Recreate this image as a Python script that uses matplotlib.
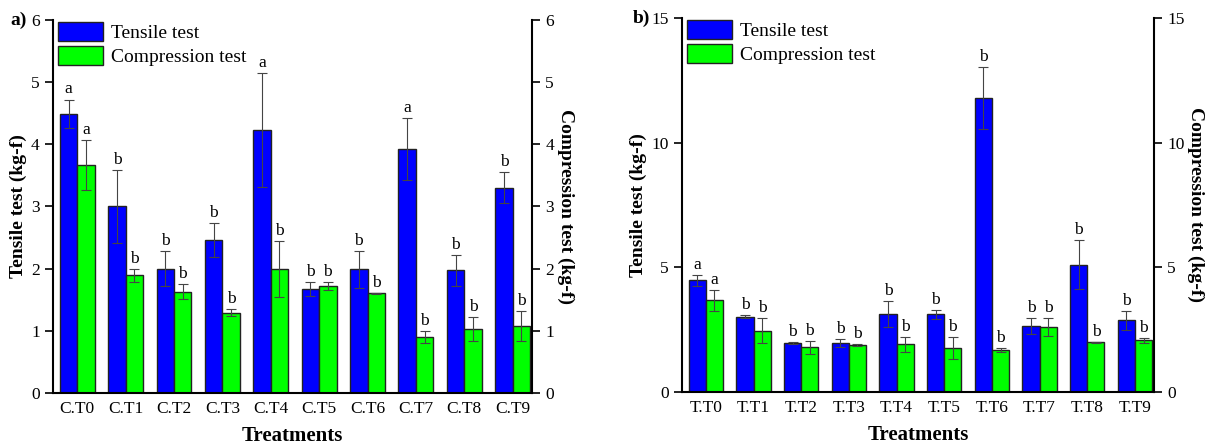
import matplotlib
matplotlib.use('Agg')
import matplotlib.pyplot as plt
import numpy as np

# data (kg-f)
c_labels = ['C.T0', 'C.T1', 'C.T2', 'C.T3', 'C.T4', 'C.T5', 'C.T6', 'C.T7', 'C.T8', 'C.T9']
c_tens = [4.49, 3.00, 2.00, 2.46, 4.23, 1.67, 1.99, 3.92, 1.97, 3.30]
c_tens_err = [0.23, 0.58, 0.28, 0.27, 0.92, 0.11, 0.30, 0.50, 0.25, 0.25]
c_comp = [3.67, 1.89, 1.63, 1.29, 1.99, 1.72, 1.60, 0.90, 1.03, 1.08]
c_comp_err = [0.40, 0.11, 0.12, 0.06, 0.45, 0.07, 0.01, 0.09, 0.19, 0.24]
c_tens_let = ['a', 'b', 'b', 'b', 'a', 'b', 'b', 'a', 'b', 'b']
c_comp_let = ['a', 'b', 'b', 'b', 'b', 'b', 'b', 'b', 'b', 'b']

t_labels = ['T.T0', 'T.T1', 'T.T2', 'T.T3', 'T.T4', 'T.T5', 'T.T6', 'T.T7', 'T.T8', 'T.T9']
t_tens = [4.48, 3.01, 1.96, 1.96, 3.12, 3.11, 11.79, 2.66, 5.11, 2.87]
t_tens_err = [0.21, 0.06, 0.03, 0.15, 0.53, 0.17, 1.23, 0.32, 0.97, 0.39]
t_comp = [3.67, 2.45, 1.79, 1.88, 1.91, 1.77, 1.67, 2.62, 2.00, 2.07]
t_comp_err = [0.41, 0.50, 0.25, 0.05, 0.30, 0.43, 0.08, 0.36, 0.02, 0.10]
t_tens_let = ['a', 'b', 'b', 'b', 'b', 'b', 'b', 'b', 'b', 'b']
t_comp_let = ['a', 'b', 'b', 'b', 'b', 'b', 'b', 'b', 'b', 'b']

plt.rcParams['font.family'] = ['Liberation Serif', 'DejaVu Serif']

BLUE = '#0000ff'
GREEN = '#00ff00'
fs = 12.5
w = 0.36

fig = plt.figure(figsize=(12.05, 4.45), dpi=100)
ax1 = fig.add_axes([0.044, 0.117, 0.3975, 0.838])
ax2 = fig.add_axes([0.566, 0.119, 0.3917, 0.841])


def panel(ax, labels, tens, tens_err, comp, comp_err, tl, cl, ymax, yticks):
	x = np.arange(len(labels))
	ekw = dict(ecolor='#444444', elinewidth=0.8, capsize=3.5, capthick=0.8)
	ax.bar(x - w/2, tens, w, color=BLUE, edgecolor='#222222', lw=1.0,
		yerr=tens_err, error_kw=ekw, label='Tensile test', zorder=2)
	ax.bar(x + w/2, comp, w, color=GREEN, edgecolor='#222222', lw=1.0,
		yerr=comp_err, error_kw=ekw, label='Compression test', zorder=2)
	for xi, v, e, s in zip(x - w/2, tens, tens_err, tl):
		ax.annotate(s, (xi, v + e), xytext=(0, 1.5), textcoords='offset points',
			ha='center', va='bottom', fontsize=fs)
	for xi, v, e, s in zip(x + w/2, comp, comp_err, cl):
		ax.annotate(s, (xi, v + e), xytext=(0, 1.5), textcoords='offset points',
			ha='center', va='bottom', fontsize=fs)

	ax.set_xlim(-0.5, len(labels) - 0.6)
	ax.set_ylim(0, ymax)
	ax.set_yticks(yticks)
	ax.set_xticks(x)
	ax.set_xticklabels(labels, fontsize=fs)
	ax.tick_params(axis='x', length=0, pad=6)
	ax.tick_params(axis='y', direction='out', length=6, width=1.2, labelsize=fs)
	for sp in ['top', 'right']:
		ax.spines[sp].set_visible(False)
	for sp in ['left', 'bottom']:
		ax.spines[sp].set_linewidth(1.5)

	ax.set_ylabel('Tensile test (kg-f)', fontsize=14, fontweight='bold', labelpad=3)
	ax.set_xlabel('Treatments', fontsize=15, fontweight='bold', labelpad=6)

	axr = ax.twinx()
	axr.set_ylim(0, ymax)
	axr.set_yticks(yticks)
	axr.tick_params(axis='y', direction='out', length=6, width=1.2, labelsize=fs)
	for sp in ['top', 'left', 'bottom']:
		axr.spines[sp].set_visible(False)
	axr.spines['right'].set_linewidth(1.5)
	axr.set_ylabel('Compression test (kg-f)', fontsize=14, fontweight='bold',
		rotation=270, va='bottom', labelpad=2)

	ax.legend(loc='upper left', bbox_to_anchor=(-0.018, 1.03), frameon=False,
		fontsize=14, handlelength=2.3, handleheight=1.1, labelspacing=0.2,
		handletextpad=0.4, borderaxespad=0.3)


panel(ax1, c_labels, c_tens, c_tens_err, c_comp, c_comp_err, c_tens_let, c_comp_let,
	6, [0, 1, 2, 3, 4, 5, 6])
panel(ax2, t_labels, t_tens, t_tens_err, t_comp, t_comp_err, t_tens_let, t_comp_let,
	15, [0, 5, 10, 15])

fig.text(10/1205, 1 - 20/445, 'a)', fontsize=14, fontweight='bold', ha='left', va='center')
fig.text(633/1205, 1 - 18/445, 'b)', fontsize=14, fontweight='bold', ha='left', va='center')

fig.savefig('out.png', dpi=100)
